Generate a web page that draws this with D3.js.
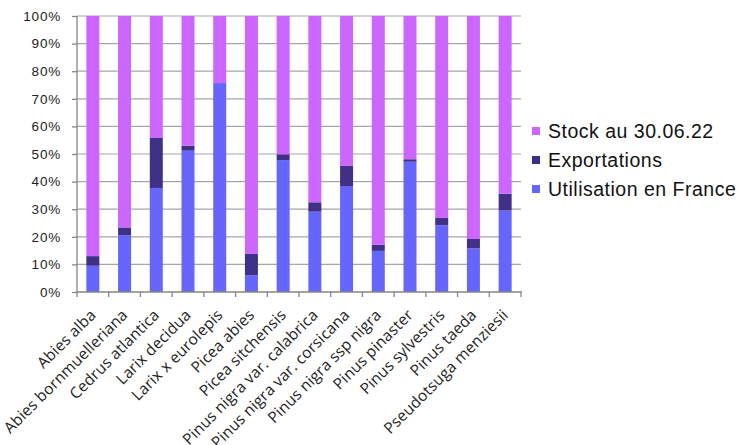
<!DOCTYPE html>
<html>
<head>
<meta charset="utf-8">
<script src="https://cdn.jsdelivr.net/npm/d3@7"></script>
<style>
  html, body { margin: 0; padding: 0; background: #fff; }
  svg { display: block; }
</style>
</head>
<body>
<svg id="chart" width="739" height="445"></svg>
<script>
const categories = ["Abies alba", "Abies bornmuelleriana", "Cedrus atlantica", "Larix decidua",
  "Larix x eurolepis", "Picea abies", "Picea sitchensis", "Pinus nigra var. calabrica",
  "Pinus nigra var. corsicana", "Pinus nigra ssp nigra", "Pinus pinaster", "Pinus sylvestris",
  "Pinus taeda", "Pseudotsuga menziesii"];
const utilisation = [9.5, 20.6, 37.7, 51.2, 75.7, 6.0, 47.8, 29.1, 38.4, 14.9, 47.2, 24.2, 15.8, 29.5];
const exportations = [3.5, 2.8, 18.1, 1.8, 0.0, 7.8, 2.1, 3.4, 7.4, 2.2, 0.9, 2.6, 3.4, 6.1];
const stock = [87.0, 76.6, 44.2, 47.0, 24.3, 86.2, 50.1, 67.5, 54.2, 82.9, 51.9, 73.2, 80.8, 64.4];
const seriesNames = ["Utilisation en France", "Exportations", "Stock au 30.06.22"];
const seriesColors = ["#6666FF", "#403087", "#CC66FF"];
const yTicks = [0, 10, 20, 30, 40, 50, 60, 70, 80, 90, 100];

(function () {
const rows = categories.map((c, i) => ({
  cat: c,
  "Utilisation en France": utilisation[i],
  "Exportations": exportations[i],
  "Stock au 30.06.22": stock[i]
}));

const svg = d3.select("#chart");
const mLeft = 77, mRight = 521, mTop = 16, mBottom = 292;

const x = d3.scaleBand().domain(categories).range([mLeft, mRight])
  .paddingInner(0.59).paddingOuter(0.295);
const y = d3.scaleLinear().domain([0, 100]).range([mBottom, mTop]);
const color = d3.scaleOrdinal().domain(seriesNames).range(seriesColors);
const step = x.step();

// gridlines
svg.append("g").selectAll("line").data(yTicks.filter(d => d > 0)).join("line")
  .attr("x1", mLeft).attr("x2", mRight)
  .attr("y1", d => y(d)).attr("y2", d => y(d))
  .attr("stroke", "#a6a6a6").attr("stroke-width", 1.2);

// bars
const stacked = d3.stack().keys(seriesNames)(rows);
svg.append("g").selectAll("g").data(stacked).join("g")
  .attr("fill", d => color(d.key))
  .selectAll("rect").data(d => d).join("rect")
  .attr("x", d => x(d.data.cat))
  .attr("width", x.bandwidth())
  .attr("y", d => y(d[1]))
  .attr("height", d => Math.max(0, y(d[0]) - y(d[1])));

// y axis
const yAxis = d3.axisLeft(y).tickValues(yTicks).tickSize(5).tickPadding(11)
  .tickFormat(d => d + "%");
const gy = svg.append("g").attr("transform", `translate(${mLeft},0)`).call(yAxis);
gy.select(".domain").attr("stroke", "#868686").attr("stroke-width", 1.3)
  .attr("d", `M0,${mTop}V${mBottom}`);
gy.selectAll(".tick line").attr("stroke", "#868686").attr("stroke-width", 1.3);
gy.selectAll(".tick text")
  .attr("font-family", "'Liberation Sans', Arial, sans-serif")
  .attr("font-size", "13.5px").attr("letter-spacing", "0.8px")
  .attr("fill", "#222");

// x axis (ticks at category boundaries)
const gx = svg.append("g");
gx.append("line").attr("x1", mLeft).attr("x2", mRight + 1)
  .attr("y1", mBottom).attr("y2", mBottom)
  .attr("stroke", "#868686").attr("stroke-width", 1.3);
const bounds = categories.map(c => x(c) + x.bandwidth() / 2 - step / 2)
  .concat([x(categories[categories.length - 1]) + x.bandwidth() / 2 + step / 2]);
gx.selectAll("line.t").data(bounds).join("line").attr("class", "t")
  .attr("x1", d => d).attr("x2", d => d)
  .attr("y1", mBottom).attr("y2", mBottom + 5)
  .attr("stroke", "#868686").attr("stroke-width", 1.3);
gx.selectAll("text").data(categories).join("text")
  .attr("transform", d => `translate(${x(d) + x.bandwidth() / 2 + 4},${mBottom + 24}) rotate(-45)`)
  .attr("text-anchor", "end")
  .attr("font-family", "'Open Sans', sans-serif")
  .attr("font-size", "15.5px")
  .attr("letter-spacing", "0.15px")
  .attr("fill", "#222")
  .text(d => d);

// legend
const legendItems = seriesNames.slice().reverse();
const lg = svg.append("g");
legendItems.forEach((name, i) => {
  const yy = 131 + i * 29;
  lg.append("rect").attr("x", 532).attr("y", yy - 4).attr("width", 8).attr("height", 8)
    .attr("fill", color(name));
  lg.append("text").attr("x", 548).attr("y", yy + 7)
    .attr("font-family", "'Liberation Sans', Arial, sans-serif")
    .attr("font-size", "19.5px").attr("letter-spacing", "0.5px").attr("fill", "#111")
    .text(name);
});
})();
</script>
</body>
</html>
